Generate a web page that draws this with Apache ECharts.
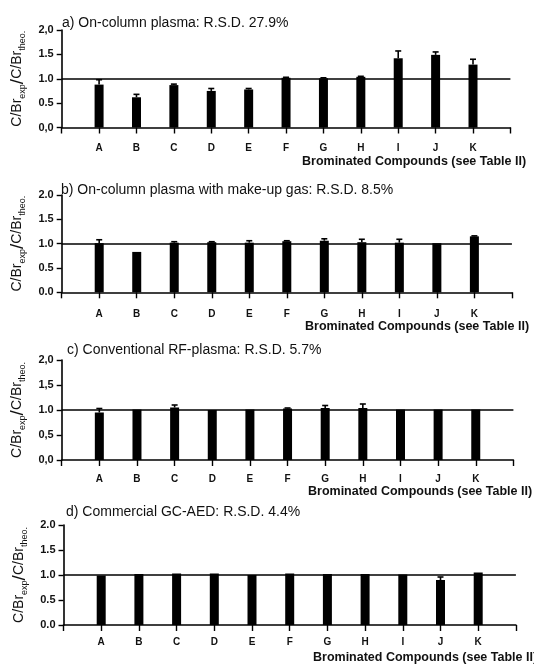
<!DOCTYPE html>
<html>
<head>
<meta charset="utf-8">
<script src="https://cdn.jsdelivr.net/npm/echarts@6/dist/echarts.min.js"></script>
<style>
html,body{margin:0;padding:0;background:#fff;}
#chart{width:534px;height:668px;}
</style>
</head>
<body>
<div id="chart"></div>
<script>
const categories = ['A','B','C','D','E','F','G','H','I','J','K'];
const panelTitles = [
  'a) On-column plasma: R.S.D. 27.9%',
  'b) On-column plasma with make-up gas: R.S.D. 8.5%',
  'c) Conventional RF-plasma: R.S.D. 5.7%',
  'd) Commercial GC-AED: R.S.D. 4.4%'
];
const xAxisTitle = 'Brominated Compounds (see Table II)';

// bar heights (ratio exp/theo)
const valuesA = [0.88, 0.62, 0.87, 0.75, 0.78, 1.02, 1.01, 1.04, 1.42, 1.49, 1.29];
const valuesB = [1.01, 0.83, 1.02, 1.03, 1.02, 1.05, 1.06, 1.03, 1.02, 1.01, 1.15];
const valuesC = [0.95, 1.01, 1.05, 1.00, 1.01, 1.03, 1.04, 1.04, 1.01, 1.01, 1.01];
const valuesD = [0.99, 1.02, 1.03, 1.03, 1.00, 1.03, 1.02, 1.02, 1.01, 0.90, 1.05];

// upper ends of error bars
const errTopA = [0.98, 0.68, 0.89, 0.80, 0.80, 1.03, 1.02, 1.05, 1.57, 1.55, 1.40];
const errTopB = [1.08, 0.83, 1.04, 1.04, 1.06, 1.06, 1.10, 1.09, 1.09, 1.01, 1.16];
const errTopC = [1.03, 1.01, 1.10, 1.00, 1.01, 1.04, 1.09, 1.12, 1.01, 1.01, 1.01];
const errTopD = [0.99, 1.02, 1.03, 1.03, 1.00, 1.03, 1.02, 1.02, 1.01, 0.96, 1.05];

const yTickValues = [0, 0.5, 1.0, 1.5, 2.0];
const yTickLabelsA = ['0,0','0.5','1.0','1.5','2,0'];
const yTickLabelsB = ['0.0','0.5','1.0','1.5','2.0'];
const yTickLabelsC = ['0,0','0,5','1.0','1,5','2,0'];
const yTickLabelsD = ['0.0','0.5','1.0','1.5','2.0'];
const referenceValue = 1.0;

const panels = [
  {v: valuesA, e: errTopA, yl: yTickLabelsA},
  {v: valuesB, e: errTopB, yl: yTickLabelsB},
  {v: valuesC, e: errTopC, yl: yTickLabelsC},
  {v: valuesD, e: errTopD, yl: yTickLabelsD}
];

// layout
const gridPos = [
  {left: 58, top: 30, height: 97.5},
  {left: 59.5, top: 195, height: 97.3},
  {left: 61, top: 360, height: 100},
  {left: 63.5, top: 525, height: 100}
];
const gridWidth = 452.4;
const labelMargins = [16, 17, 14, 12];
const titlePos = [[62,16],[61,183],[67,343],[66,505]];
const xNamePos = [[302,155],[305,320],[308,485],[313,651]];

const FONT = 'Liberation Sans, Arial, sans-serif';
const chart = echarts.init(document.getElementById('chart'), null, {renderer: 'canvas'});

const option = {
  backgroundColor: '#ffffff',
  animation: false,
  title: panelTitles.map((t, i) => ({
    text: t, left: titlePos[i][0], top: titlePos[i][1], padding: 0,
    textStyle: {fontFamily: FONT, fontSize: 14, fontWeight: 'normal', color: '#111'}
  })),
  graphic: xNamePos.map((p) => ({
    type: 'text', left: p[0], top: p[1],
    style: {text: xAxisTitle, fontFamily: FONT, fontSize: 12.5, fontWeight: 'bold', fill: '#111'}
  })),
  grid: gridPos.map(g => ({left: g.left, top: g.top, width: gridWidth, height: g.height})),
  xAxis: panels.map((p, i) => ({
    type: 'value', gridIndex: i, min: 0, max: 12, interval: 1,
    axisLine: {show: true, lineStyle: {color: '#000', width: 1.6}},
    axisTick: {show: true, inside: false, length: 6, lineStyle: {color: '#000', width: 1.4}},
    splitLine: {show: false},
    axisLabel: {
      margin: labelMargins[i], fontFamily: FONT, fontSize: 10, fontWeight: 'bold', color: '#111',
      formatter: v => (v >= 1 && v <= categories.length) ? categories[v - 1] : ''
    }
  })),
  yAxis: panels.map((p, i) => ({
    type: 'value', gridIndex: i, min: 0, max: 2, interval: 0.5,
    axisLine: {show: true, lineStyle: {color: '#000', width: 1.6}},
    axisTick: {show: true, length: 5, lineStyle: {color: '#000', width: 1.4}},
    splitLine: {show: false},
    axisLabel: {
      margin: 8, fontFamily: FONT, fontSize: 11, fontWeight: 'bold', color: '#111',
      formatter: v => { const k = yTickValues.indexOf(v); return k >= 0 ? p.yl[k] : ''; }
    },
    name: '{m|C/Br}{s|exp}{b|/}{m|C/Br}{s|theo.}',
    nameLocation: 'middle', nameRotate: 90, nameGap: 27,
    nameTextStyle: {
      fontFamily: FONT, color: '#111',
      rich: {
        m: {fontFamily: FONT, fontSize: 14, lineHeight: 20, verticalAlign: 'middle', color: '#111'},
        b: {fontFamily: FONT, fontSize: 19, lineHeight: 20, verticalAlign: 'middle', color: '#111'},
        s: {fontFamily: FONT, fontSize: 9, lineHeight: 9, verticalAlign: 'bottom', color: '#111'}
      }
    }
  })),
  series: []
};

panels.forEach((p, i) => {
  option.series.push({
    type: 'bar', xAxisIndex: i, yAxisIndex: i,
    barWidth: 9,
    itemStyle: {color: '#000'},
    data: p.v.map((v, k) => [k + 1, v]),
    markLine: {
      silent: true, symbol: 'none', label: {show: false},
      lineStyle: {color: '#000', width: 1.5, type: 'solid'},
      data: [[{coord: [0, referenceValue]}, {coord: [12, referenceValue]}]]
    }
  });
  option.series.push({
    type: 'custom', xAxisIndex: i, yAxisIndex: i, z: 3,
    data: p.v.map((v, k) => [k + 1, v, p.e[k]]),
    renderItem: (params, api) => {
      const x = api.value(0), v = api.value(1), e = api.value(2);
      if (e <= v + 0.005) return null;
      const base = api.coord([x, v]);
      const top = api.coord([x, e]);
      const hw = 3;
      return {
        type: 'group',
        children: [
          {type: 'line', shape: {x1: base[0], y1: base[1], x2: top[0], y2: top[1]}, style: {stroke: '#000', lineWidth: 1.6}},
          {type: 'line', shape: {x1: top[0] - hw, y1: top[1], x2: top[0] + hw, y2: top[1]}, style: {stroke: '#000', lineWidth: 1.6}}
        ]
      };
    }
  });
});

chart.setOption(option);
</script>
</body>
</html>
